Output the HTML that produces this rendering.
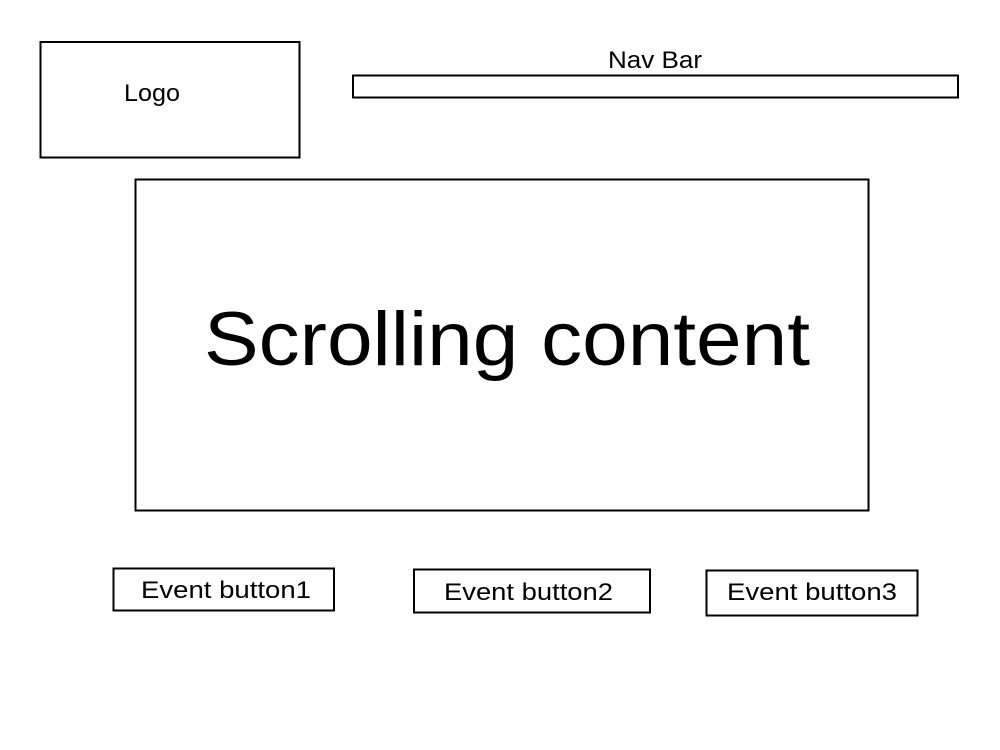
<!DOCTYPE html>
<html><head><meta charset="utf-8"><style>html,body{margin:0;padding:0;background:#fff}svg{display:block}</style></head>
<body>
<svg width="1000" height="750" viewBox="0 0 1000 750" xmlns="http://www.w3.org/2000/svg" font-family="'Liberation Sans', sans-serif" fill="#000">
<rect x="0" y="0" width="1000" height="750" fill="#fff"/>
<g fill="none" stroke="#000" stroke-width="2">
<rect x="40.5" y="42" width="259" height="115.5"/>
<rect x="353" y="75.5" width="605" height="22"/>
<rect x="135.5" y="179.5" width="733" height="331"/>
<rect x="113.5" y="568.5" width="220.5" height="42"/>
<rect x="414" y="569.5" width="236" height="43"/>
<rect x="706.5" y="570.5" width="211" height="45"/>
</g>
<text x="124" y="101" font-size="24" textLength="56" lengthAdjust="spacingAndGlyphs">Logo</text>
<text x="608" y="68" font-size="24" textLength="94" lengthAdjust="spacingAndGlyphs">Nav Bar</text>
<text x="204" y="365" font-size="76" textLength="606" lengthAdjust="spacingAndGlyphs">Scrolling content</text>
<text x="141" y="598" font-size="24" textLength="170" lengthAdjust="spacingAndGlyphs">Event button1</text>
<text x="444" y="600" font-size="24" textLength="169" lengthAdjust="spacingAndGlyphs">Event button2</text>
<text x="727" y="600" font-size="24" textLength="170" lengthAdjust="spacingAndGlyphs">Event button3</text>
</svg>
</body></html>
